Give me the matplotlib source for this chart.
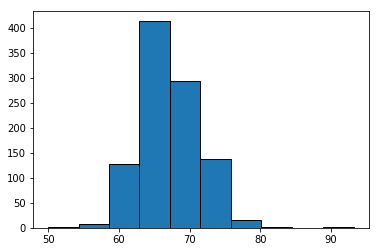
import matplotlib
matplotlib.use("Agg")
import matplotlib.pyplot as plt

# Histogram bins
bin_edges = [50.0, 54.4, 58.6, 62.9, 67.2, 71.5, 75.8, 80.1, 84.5, 88.8, 93.2]
counts = [2, 8, 128, 414, 294, 138, 16, 2, 0, 2]

fig = plt.figure(figsize=(5.25, 3.5), dpi=72)
ax = fig.add_axes([33 / 378, 24 / 252, 336 / 378, 217 / 252])

lefts = bin_edges[:-1]
widths = [b - a for a, b in zip(bin_edges[:-1], bin_edges[1:])]
ax.bar(lefts, counts, width=widths, align='edge', color='#1f77b4',
       edgecolor='black', linewidth=1)

ax.set_xticks([50, 60, 70, 80, 90])
ax.set_yticks(range(0, 401, 50))
ax.tick_params(labelsize=10)

fig.savefig("out.png", dpi=72)
